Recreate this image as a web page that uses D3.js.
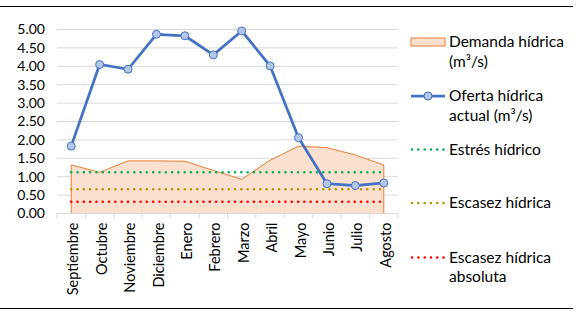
<!DOCTYPE html>
<html>
<head>
<meta charset="utf-8">
<script src="https://cdn.jsdelivr.net/npm/d3@7"></script>
<style>
  body { margin: 0; background: #fff; }
  svg { font-family: Lato, "Open Sans", sans-serif; }
</style>
</head>
<body>
<svg width="577" height="313"></svg>
<script>
const months = ["Septiembre", "Octubre", "Noviembre", "Diciembre", "Enero", "Febrero",
                "Marzo", "Abril", "Mayo", "Junio", "Julio", "Agosto"];
const oferta = [1.83, 4.05, 3.92, 4.87, 4.83, 4.31, 4.96, 4.01, 2.06, 0.81, 0.76, 0.83];
const demanda = [1.32, 1.12, 1.43, 1.43, 1.42, 1.17, 0.93, 1.45, 1.83, 1.79, 1.59, 1.32];
const estres = 1.12;
const escasez = 0.66;
const escasezAbs = 0.32;
const yTicks = [0, 0.5, 1, 1.5, 2, 2.5, 3, 3.5, 4, 4.5, 5];

const svg = d3.select("svg");

const x = d3.scaleBand().domain(months).range([57, 398]);
const y = d3.scaleLinear().domain([0, 5]).range([213.5, 29.5]);
const cx = d => x(d) + x.bandwidth() / 2;

// frame lines
svg.append("line").attr("x1", 0).attr("x2", 573).attr("y1", 6.5).attr("y2", 6.5)
  .attr("stroke", "#000").attr("stroke-width", 1);
svg.append("line").attr("x1", 0).attr("x2", 573).attr("y1", 308.5).attr("y2", 308.5)
  .attr("stroke", "#000").attr("stroke-width", 1);

// gridlines
svg.append("g").selectAll("line")
  .data(yTicks.slice(1))
  .join("line")
  .attr("x1", 57).attr("x2", 398)
  .attr("y1", d => y(d)).attr("y2", d => y(d))
  .attr("stroke", "#d9d9d9").attr("stroke-width", 1);

// y labels
svg.append("g").selectAll("text")
  .data(yTicks)
  .join("text")
  .attr("x", 45)
  .attr("y", d => y(d))
  .attr("dy", "0.35em")
  .attr("text-anchor", "end")
  .style("font-size", "14px")
  .attr("fill", "#000")
  .text(d => d.toFixed(2));

// demanda area
const area = d3.area()
  .x((d, i) => cx(months[i]))
  .y0(y(0))
  .y1(d => y(d));
svg.append("path")
  .datum(demanda)
  .attr("d", area)
  .attr("fill", "#fbe0d0");
svg.append("path")
  .datum(demanda)
  .attr("d", d3.line().x((d, i) => cx(months[i])).y(d => y(d)))
  .attr("fill", "none")
  .attr("stroke", "#ed7d31")
  .attr("stroke-width", 1);
svg.append("line")
  .attr("x1", cx(months[0])).attr("x2", cx(months[0]))
  .attr("y1", y(0)).attr("y2", y(demanda[0]))
  .attr("stroke", "#ed7d31").attr("stroke-width", 1);
svg.append("line")
  .attr("x1", cx(months[11])).attr("x2", cx(months[11]))
  .attr("y1", y(0)).attr("y2", y(demanda[11]))
  .attr("stroke", "#ed7d31").attr("stroke-width", 1);

// threshold lines
const thresholds = [
  {v: estres, c: "#00b050"},
  {v: escasez, c: "#bf9000"},
  {v: escasezAbs, c: "#ff0000"}
];
svg.append("g").selectAll("line")
  .data(thresholds)
  .join("line")
  .attr("x1", cx(months[0])).attr("x2", cx(months[11]))
  .attr("y1", d => y(d.v)).attr("y2", d => y(d.v))
  .attr("stroke", d => d.c)
  .attr("stroke-width", 2.5)
  .attr("stroke-linecap", "round")
  .attr("stroke-dasharray", "0.1,6.2");

// x axis
const xAxis = svg.append("g");
xAxis.append("line").attr("x1", 57).attr("x2", 398).attr("y1", y(0)).attr("y2", y(0))
  .attr("stroke", "#d9d9d9");
xAxis.selectAll("line.tick")
  .data(months.concat(["end"]))
  .join("line")
  .attr("class", "tick")
  .attr("x1", (d, i) => 57 + i * x.bandwidth())
  .attr("x2", (d, i) => 57 + i * x.bandwidth())
  .attr("y1", y(0)).attr("y2", y(0) + 5)
  .attr("stroke", "#d9d9d9");
xAxis.selectAll("text")
  .data(months)
  .join("text")
  .attr("transform", d => `translate(${cx(d) + 2},${y(0) + 9}) rotate(-90)`)
  .attr("text-anchor", "end")
  .attr("dy", "0.35em")
  .style("font-size", "14.5px")
  .text(d => d);

// oferta line
svg.append("path")
  .datum(oferta)
  .attr("d", d3.line().x((d, i) => cx(months[i])).y(d => y(d)))
  .attr("fill", "none")
  .attr("stroke", "#4472c4")
  .attr("stroke-width", 2.75)
  .attr("stroke-linejoin", "round");
svg.append("g").selectAll("circle")
  .data(oferta)
  .join("circle")
  .attr("cx", (d, i) => cx(months[i]))
  .attr("cy", d => y(d))
  .attr("r", 4)
  .attr("fill", "#b4c7e7")
  .attr("stroke", "#4472c4")
  .attr("stroke-width", 1);

// ---- legend ----
const lg = svg.append("g").style("font-size", "15.5px");
const lx = 411, lw = 34, tx = 449;

lg.append("rect").attr("x", lx).attr("y", 38).attr("width", lw).attr("height", 8)
  .attr("fill", "#fbe0d0").attr("stroke", "#ed7d31").attr("stroke-width", 1);
lg.append("text").attr("x", tx).attr("y", 42).attr("dy", "0.35em").text("Demanda hídrica");
lg.append("text").attr("x", tx).attr("y", 62).attr("dy", "0.35em").text("(m³/s)");

lg.append("line").attr("x1", lx).attr("x2", lx + lw).attr("y1", 96).attr("y2", 96)
  .attr("stroke", "#4472c4").attr("stroke-width", 2.75);
lg.append("circle").attr("cx", lx + lw / 2).attr("cy", 96).attr("r", 4)
  .attr("fill", "#b4c7e7").attr("stroke", "#4472c4");
lg.append("text").attr("x", tx).attr("y", 96).attr("dy", "0.35em").text("Oferta hídrica");
lg.append("text").attr("x", tx).attr("y", 116).attr("dy", "0.35em").text("actual (m³/s)");

const legLines = [
  {y: 149.5, c: "#00b050", t: ["Estrés hídrico"]},
  {y: 203, c: "#bf9000", t: ["Escasez hídrica"]},
  {y: 257.5, c: "#ff0000", t: ["Escasez hídrica", "absoluta"]}
];
legLines.forEach(d => {
  lg.append("line").attr("x1", lx + 1).attr("x2", lx + lw).attr("y1", d.y).attr("y2", d.y)
    .attr("stroke", d.c).attr("stroke-width", 2.5)
    .attr("stroke-linecap", "round").attr("stroke-dasharray", "0.1,6.2");
  d.t.forEach((s, i) => {
    lg.append("text").attr("x", tx).attr("y", d.y + i * 19.5).attr("dy", "0.35em").text(s);
  });
});
</script>
</body>
</html>
